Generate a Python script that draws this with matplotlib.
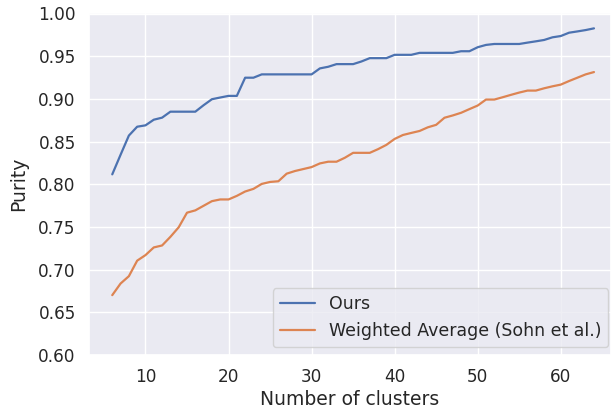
import matplotlib
matplotlib.use("Agg")
import matplotlib.pyplot as plt
import seaborn as sns

n_clusters = list(range(6, 65))
ours = [0.8116, 0.8345, 0.857, 0.8674, 0.869, 0.8756, 0.878, 0.885, 0.885, 0.885,
        0.885, 0.8926, 0.8996, 0.9016, 0.9035, 0.9035, 0.9248, 0.9248, 0.9287, 0.9287,
        0.9287, 0.9287, 0.9287, 0.9287, 0.9287, 0.9357, 0.9376, 0.9407, 0.9407, 0.9407,
        0.9438, 0.9477, 0.9477, 0.9477, 0.9516, 0.9516, 0.9516, 0.9539, 0.9539, 0.9539,
        0.9539, 0.9539, 0.9558, 0.9558, 0.9605, 0.9632, 0.9643, 0.9643, 0.9643, 0.9643,
        0.9659, 0.9674, 0.969, 0.9721, 0.9736, 0.9775, 0.979, 0.9806, 0.9826]
sohn = [0.6701, 0.6837, 0.6923, 0.7105, 0.717, 0.726, 0.7283, 0.7384, 0.7496, 0.7667,
        0.7694, 0.7748, 0.7802, 0.7822, 0.7822, 0.7864, 0.7915, 0.7946, 0.8004, 0.8027,
        0.8035, 0.8124, 0.8155, 0.8178, 0.8201, 0.8244, 0.8264, 0.8264, 0.831, 0.8368,
        0.8368, 0.8368, 0.8411, 0.8461, 0.8531, 0.8577, 0.8601, 0.8624, 0.8667, 0.8696,
        0.8779, 0.8806, 0.8837, 0.888, 0.8922, 0.8992, 0.8992, 0.9019, 0.9047, 0.9074,
        0.9097, 0.9097, 0.9124, 0.9147, 0.9167, 0.9209, 0.9248, 0.9287, 0.9314]
series_labels = ["Ours", "Weighted Average (Sohn et al.)"]
y_ticks = [0.60, 0.65, 0.70, 0.75, 0.80, 0.85, 0.90, 0.95, 1.00]
x_ticks = [10, 20, 30, 40, 50, 60]

sns.set_theme(style="darkgrid")
plt.rcParams['font.family'] = ['DejaVu Sans']

fig = plt.figure(figsize=(6.12, 4.09), dpi=100)
ax = fig.add_axes([89/612, 1 - 355/409, (611 - 89)/612, (355 - 13.5)/409])
ax.plot(n_clusters, ours, label=series_labels[0], linewidth=1.6)
ax.plot(n_clusters, sohn, label=series_labels[1], linewidth=1.6)
ax.set_xlim(3.2, 66.05)
ax.set_ylim(0.6, 1.0)
ax.set_yticks(y_ticks)
ax.set_yticklabels([f"{t:.2f}" for t in y_ticks])
ax.set_xticks(x_ticks)
ax.tick_params(labelsize=12.2)
ax.set_xlabel("Number of clusters", fontsize=13.5, labelpad=3)
ax.set_ylabel("Purity", fontsize=13.5, labelpad=7)
ax.legend(loc="lower right", fontsize=12.5, borderaxespad=0,
          bbox_to_anchor=((608 - 89) / 522, (355 - 347) / 341.5))
fig.savefig("out.png", dpi=100)
